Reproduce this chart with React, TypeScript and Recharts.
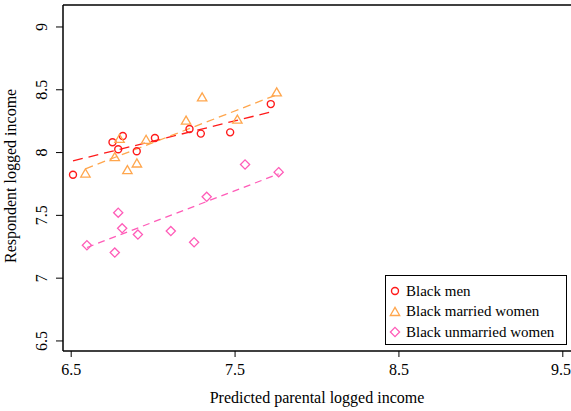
import React from 'react';
import {
  ReferenceLine,
  Scatter,
  ScatterChart,
  XAxis,
  YAxis,
} from 'recharts';

const FONT = "'Liberation Serif', 'Times New Roman', serif";
const FS = 16;
const LEGEND_FS = 15;

// Group means: predicted parental log income (x) vs respondent log income (y)
const menX = [6.511, 6.752, 6.787, 6.815, 6.9, 7.011, 7.222, 7.291, 7.47, 7.718];
const menY = [7.823, 8.082, 8.026, 8.132, 8.01, 8.116, 8.188, 8.151, 8.161, 8.386];

const marriedX = [6.587, 6.766, 6.843, 6.901, 6.795, 6.957, 7.201, 7.299, 7.514, 7.754];
const marriedY = [7.833, 7.963, 7.86, 7.913, 8.109, 8.101, 8.254, 8.439, 8.262, 8.479];

const unmarriedX = [6.596, 6.766, 6.787, 6.811, 6.907, 7.108, 7.25, 7.327, 7.561, 7.766];
const unmarriedY = [7.262, 7.204, 7.521, 7.397, 7.347, 7.375, 7.286, 7.648, 7.905, 7.844];

// Fitted line end points per group
const menFitX = [6.511, 7.718];
const menFitY = [7.934, 8.323];
const marriedFitX = [6.587, 7.754];
const marriedFitY = [7.871, 8.46];
const unmarriedFitX = [6.596, 7.766];
const unmarriedFitY = [7.244, 7.83];

const xTicks = [6.5, 7.5, 8.5, 9.5];
const yTicks = [6.5, 7, 7.5, 8, 8.5, 9];
const X_DOMAIN: [number, number] = [6.45, 9.55];
const Y_DOMAIN: [number, number] = [6.42, 9.175];

const RED = '#ff1a1a';
const ORANGE = '#ffa64d';
const PINK = '#ff5cb8';

const zip = (xs: number[], ys: number[]) => xs.map((x, i) => ({ x, y: ys[i] }));

const Circle = (p: any) => (
  <circle cx={p.cx} cy={p.cy} r={3.5} fill="none" stroke={RED} strokeWidth={1.4} />
);
const Triangle = (p: any) => (
  <polygon
    points={`${p.cx},${p.cy - 4.6} ${p.cx - 4.7},${p.cy + 3.5} ${p.cx + 4.7},${p.cy + 3.5}`}
    fill="none"
    stroke={ORANGE}
    strokeWidth={1.3}
  />
);
const Diamond = (p: any) => (
  <polygon
    points={`${p.cx},${p.cy - 4.6} ${p.cx + 4.6},${p.cy} ${p.cx},${p.cy + 4.6} ${p.cx - 4.6},${p.cy}`}
    fill="none"
    stroke={PINK}
    strokeWidth={1.3}
  />
);
const NoDot = () => <g />;

const XTick = (p: any) => (
  <text x={p.x} y={p.y + 16} textAnchor="middle" fontFamily={FONT} fontSize={FS} fill="#000">
    {p.payload.value}
  </text>
);

const YTick = (p: any) => (
  <text
    transform={`translate(47,${p.y}) rotate(-90)`}
    textAnchor="middle"
    fontFamily={FONT}
    fontSize={FS}
    fill="#000"
  >
    {p.payload.value}
  </text>
);

const legendItems = [
  { label: 'Black men', icon: 'circle', color: RED },
  { label: 'Black married women', icon: 'triangle', color: ORANGE },
  { label: 'Black unmarried women', icon: 'diamond', color: PINK },
];

// Legend box sits inside the plot, lower right
const LegendBox = () => (
  <div
    style={{
      position: 'absolute',
      left: 385,
      top: 275,
      border: '1px solid #000',
      background: '#fff',
      width: 182,
      height: 70,
      boxSizing: 'border-box',
      fontFamily: FONT,
      fontSize: LEGEND_FS,
      paddingTop: 5,
    }}
  >
    {legendItems.map((it) => (
      <div key={it.label} style={{ display: 'flex', alignItems: 'center', height: 20.5, whiteSpace: 'nowrap' }}>
        <svg width={17} height={14} style={{ marginLeft: 3, flexShrink: 0 }}>
          {it.icon === 'circle' && (
            <circle cx={6} cy={7} r={3.5} fill="none" stroke={it.color} strokeWidth={1.4} />
          )}
          {it.icon === 'triangle' && (
            <polygon points="6,2.4 1.3,10.5 10.7,10.5" fill="none" stroke={it.color} strokeWidth={1.3} />
          )}
          {it.icon === 'diamond' && (
            <polygon points="6,2.4 10.6,7 6,11.6 1.4,7" fill="none" stroke={it.color} strokeWidth={1.3} />
          )}
        </svg>
        <span style={{ color: '#000' }}>{it.label}</span>
      </div>
    ))}
  </div>
);

export default function App() {
  return (
    <div style={{ position: 'absolute', left: 0, top: 0, width: 571, height: 411, background: '#fff', fontFamily: FONT }}>
      <ScatterChart width={571} height={411} margin={{ top: 5, right: 0, left: 0, bottom: 0 }} style={{ fontFamily: FONT }}>
        <XAxis
          type="number"
          dataKey="x"
          domain={X_DOMAIN}
          ticks={xTicks}
          height={60}
          tickSize={6}
          tickLine={{ stroke: '#000' }}
          axisLine={{ stroke: '#000', strokeWidth: 1.5 }}
          tick={<XTick />}
          label={{
            value: 'Predicted parental logged income',
            position: 'insideBottom',
            offset: 8,
            style: { fontFamily: FONT, fontSize: FS, fill: '#000' },
          }}
          allowDataOverflow
        />
        <YAxis
          type="number"
          dataKey="y"
          domain={Y_DOMAIN}
          ticks={yTicks}
          width={63}
          tickSize={7}
          tickLine={{ stroke: '#000' }}
          axisLine={{ stroke: '#000', strokeWidth: 1.5 }}
          tick={<YTick />}
          label={{
            value: 'Respondent logged income',
            angle: -90,
            position: 'insideLeft',
            offset: 10,
            dy: 85,
            style: { fontFamily: FONT, fontSize: FS, fill: '#000' },
          }}
          allowDataOverflow
        />
        <ReferenceLine y={9.175} stroke="#000" strokeWidth={1.5} ifOverflow="extendDomain" />
        <Scatter data={zip(menFitX, menFitY)} line={{ stroke: RED, strokeWidth: 1.3, strokeDasharray: '10 6' }} shape={<NoDot />} legendType="none" isAnimationActive={false} />
        <Scatter data={zip(marriedFitX, marriedFitY)} line={{ stroke: ORANGE, strokeWidth: 1.3, strokeDasharray: '8 5' }} shape={<NoDot />} legendType="none" isAnimationActive={false} />
        <Scatter data={zip(unmarriedFitX, unmarriedFitY)} line={{ stroke: PINK, strokeWidth: 1.3, strokeDasharray: '7 5' }} shape={<NoDot />} legendType="none" isAnimationActive={false} />
        <Scatter name="Black men" data={zip(menX, menY)} shape={<Circle />} isAnimationActive={false} />
        <Scatter name="Black married women" data={zip(marriedX, marriedY)} shape={<Triangle />} isAnimationActive={false} />
        <Scatter name="Black unmarried women" data={zip(unmarriedX, unmarriedY)} shape={<Diamond />} isAnimationActive={false} />
      </ScatterChart>
      <LegendBox />
    </div>
  );
}
